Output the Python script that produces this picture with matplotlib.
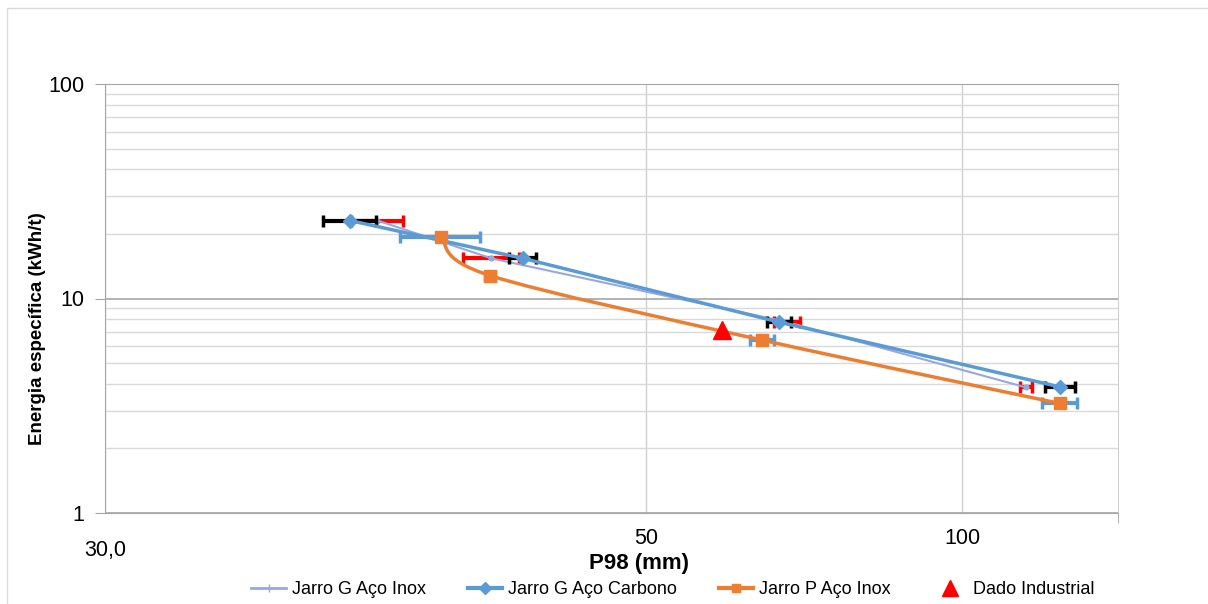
import numpy as np
import matplotlib
matplotlib.use('Agg')
import matplotlib.pyplot as plt
from matplotlib.path import Path
from matplotlib.patches import PathPatch, Rectangle
from matplotlib.lines import Line2D
from matplotlib.ticker import LogLocator, NullFormatter
from matplotlib.transforms import ScaledTranslation

plt.rcParams['font.family'] = ['Liberation Sans', 'DejaVu Sans']

# ---- data ----
inox_g_x = [38.8, 43.2, 68.1, 115.1]      # Jarro G Aco Inox
inox_g_y = [23.1, 15.4, 7.77, 3.85]
inox_g_err = [0.95, 1.15, 1.95, 1.6]

carb_x = [37.8, 44.5, 66.9, 124.0]        # Jarro G Aco Carbono
carb_y = [23.1, 15.4, 7.77, 3.87]
carb_err = [0.95, 0.55, 1.75, 4.0]

inox_p_x = [41.2, 43.15, 64.5, 124.0]     # Jarro P Aco Inox
inox_p_y = [19.25, 12.8, 6.4, 3.24]
inox_p_err = [1.55, 0.22, 1.75, 4.8]

ind_x = [59.1]                            # Dado Industrial
ind_y = [7.1]

x_ticks = [30, 50, 100]
x_ticklabels = ['30,0', '50', '100']
y_ticks = [1, 10, 100]
y_ticklabels = ['1', '10', '100']

# x axis: log-like piecewise scale (labels 30 / 50 / 100 as on the original)
LOG_ANCH = np.log10([30, 50, 400])
PX_ANCH = np.array([0.0, 541.0, 1489.0])


def fwd(x):
    x = np.clip(np.asarray(x, dtype=float), 1e-6, None)
    return np.interp(np.log10(x), LOG_ANCH, PX_ANCH)


def inv(v):
    return 10 ** np.interp(np.asarray(v, dtype=float), PX_ANCH, LOG_ANCH)


def smooth_path(xs, ys):
    # excel-like smoothed line (catmull-rom bezier) built in scale space
    u = fwd(xs)
    v = np.log10(ys) * 214.5
    pts = np.column_stack([u, v])
    n = len(pts)
    verts = [pts[0]]
    codes = [Path.MOVETO]
    for i in range(n - 1):
        p0 = pts[max(i - 1, 0)]
        p1 = pts[i]
        p2 = pts[i + 1]
        p3 = pts[min(i + 2, n - 1)]
        c1 = p1 + (p2 - p0) / 6.0
        c2 = p2 - (p3 - p1) / 6.0
        verts += [c1, c2, p2]
        codes += [Path.CURVE4] * 3
    verts = np.array(verts)
    data = np.column_stack([inv(verts[:, 0]), 10 ** (verts[:, 1] / 214.5)])
    return Path(data, codes)


fig = plt.figure(figsize=(12.08, 6.04), dpi=100)
fig.patches.append(Rectangle((7 / 1208, -0.05), 1.2, 1 - 8 / 604 + 0.05,
                             transform=fig.transFigure, fill=False,
                             edgecolor='#d9d9d9', lw=1))
ax = fig.add_axes([105 / 1208, 91 / 604, 1013 / 1208, 429 / 604])
ax.set_xscale('function', functions=(fwd, inv))
ax.set_yscale('log')
ax.set_xlim(30, float(inv(1013)))
ax.set_ylim(1, 100)

# grid
ax.set_xticks(x_ticks)
ax.set_xticklabels(x_ticklabels, fontsize=15.5)
ax.set_xticks([30, float(inv(1013))], minor=True)
ax.set_yticks(y_ticks)
ax.set_yticklabels(y_ticklabels, fontsize=15.5)
ax.yaxis.set_minor_locator(LogLocator(base=10, subs=range(2, 10)))
ax.yaxis.set_minor_formatter(NullFormatter())
ax.grid(axis='x', which='major', color='#d0d0d0', lw=1)
ax.grid(axis='y', which='major', color='#a6a6a6', lw=1.2)
ax.grid(axis='y', which='minor', color='#d9d9d9', lw=1)
ax.tick_params(axis='y', which='major', length=7, color='#a6a6a6', pad=8)
ax.tick_params(axis='y', which='minor', length=0)
ax.tick_params(axis='x', which='major', length=0, pad=11)
ax.tick_params(axis='x', which='minor', length=7, color='#a6a6a6')
for s in ['left', 'bottom', 'top']:
    ax.spines[s].set_color('#a6a6a6')
ax.spines['right'].set_color('#d0d0d0')
# first label sits lower on the original
lab0 = ax.get_xticklabels()[0]
lab0.set_transform(lab0.get_transform() + ScaledTranslation(0, -0.12, fig.dpi_scale_trans))

ax.set_xlabel('P98 (mm)', fontsize=16, fontweight='bold')
ax.xaxis.set_label_coords((639 - 105) / 1013, (513 - 563) / 429)
ax.xaxis.label.set_va('center')
ax.set_ylabel('Energia específica (kWh/t)', fontsize=13.5, fontweight='bold')
ax.yaxis.set_label_coords((38 - 105) / 1013, (513 - 329) / 429)
ax.yaxis.label.set_va('center')

c_light = '#98a8dd'
c_blue = '#5b9bd5'
c_orange = '#ed7d31'
eb = dict(fmt='none', elinewidth=3, capsize=4, capthick=2.5)

ax.errorbar(inox_g_x, inox_g_y, xerr=inox_g_err, ecolor='red', zorder=3, **eb)
ax.plot(inox_g_x, inox_g_y, color=c_light, lw=1.5, marker='o', ms=3.5, zorder=4)
ax.errorbar(carb_x, carb_y, xerr=carb_err, ecolor='black', zorder=5, **eb)
ax.plot(carb_x, carb_y, color=c_blue, lw=2.5, marker='D', ms=7, zorder=6)
ax.errorbar(inox_p_x, inox_p_y, xerr=inox_p_err, ecolor=c_blue, zorder=7, **eb)
ax.add_patch(PathPatch(smooth_path(inox_p_x, inox_p_y), facecolor='none',
                       edgecolor=c_orange, lw=2.5, zorder=8))
ax.plot(inox_p_x, inox_p_y, ls='none', color=c_orange, marker='s', ms=8, zorder=9)
ax.plot(ind_x, ind_y, ls='none', color='red', marker='^', ms=13, zorder=10)

handles = [
    Line2D([], [], color=c_light, lw=2, marker='|', ms=6),
    Line2D([], [], color=c_blue, lw=3, marker='D', ms=6),
    Line2D([], [], color=c_orange, lw=3, marker='s', ms=6),
    Line2D([], [], color='red', ls='none', marker='^', ms=11),
]
labels = ['Jarro G Aço Inox', 'Jarro G Aço Carbono', 'Jarro P Aço Inox', 'Dado Industrial']
fig.legend(handles, labels, loc='center', bbox_to_anchor=(673 / 1208, 1 - 590 / 604),
           ncol=4, frameon=False, fontsize=13, handlelength=1.9,
           handletextpad=0.35, columnspacing=2.3)

fig.savefig('out.png', dpi=100)
